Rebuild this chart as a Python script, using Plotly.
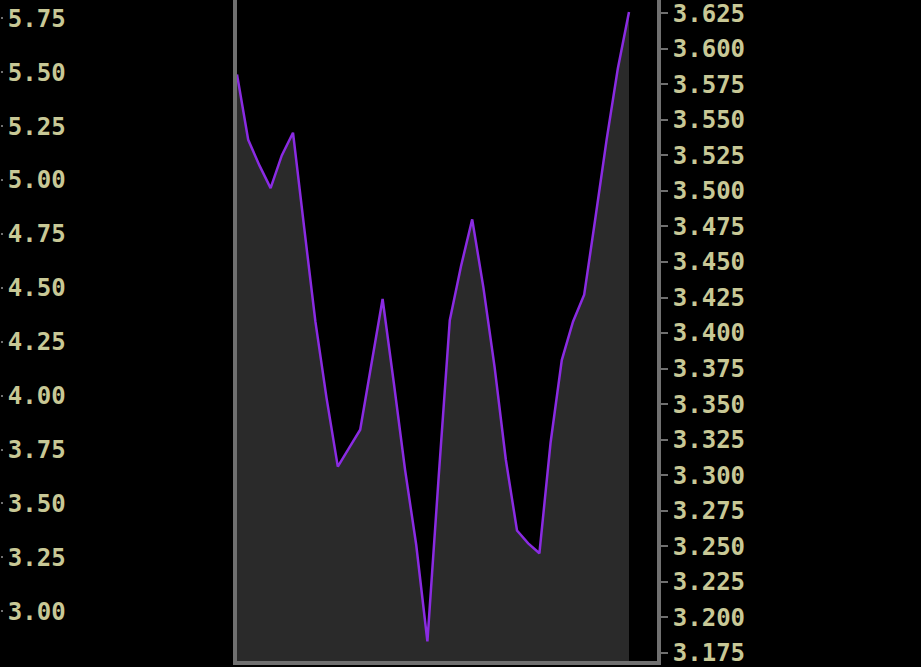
import plotly.graph_objects as go
from plotly.graph_objects import Figure

# series values, one per period (evenly spaced)
periods = list(range(36))
values = [
    3.582, 3.536, 3.518, 3.502, 3.525, 3.541, 3.474, 3.408, 3.354, 3.306,
    3.319, 3.332, 3.378, 3.424, 3.365, 3.304, 3.251, 3.183, 3.298, 3.409,
    3.447, 3.480, 3.432, 3.376, 3.311, 3.261, 3.252, 3.245, 3.323, 3.381,
    3.408, 3.427, 3.481, 3.536, 3.586, 3.626,
]

# tick labels of the neighbouring panel's scale (left edge)
left_ticks = [5.75, 5.50, 5.25, 5.00, 4.75, 4.50, 4.25, 4.00, 3.75, 3.50, 3.25, 3.00]
right_ticks = [3.625, 3.600, 3.575, 3.550, 3.525, 3.500, 3.475, 3.450, 3.425,
               3.400, 3.375, 3.350, 3.325, 3.300, 3.275, 3.250, 3.225, 3.200, 3.175]

BG = "#000000"
FILL = "#2a2a2a"
LINE = "#8a2be2"
FRAME = "#707070"
TEXT = "#c8c896"
FONT = "DejaVu Sans Mono"
TICK_FONT = dict(family=FONT, size=24, color=TEXT, weight="bold")


def make_plot() -> Figure:
    fig = go.Figure()

    fig.add_trace(
        go.Scatter(
            x=periods,
            y=values,
            mode="lines",
            line=dict(color=LINE, width=2.5),
            fill="tozeroy",
            fillcolor=FILL,
            showlegend=False,
            hoverinfo="skip",
        )
    )
    # empty trace so the left scale gets drawn
    fig.add_trace(go.Scatter(x=[], y=[], yaxis="y3", showlegend=False))

    fig.update_layout(
        width=921,
        height=667,
        margin=dict(l=0, r=0, t=0, b=6, autoexpand=False),
        paper_bgcolor=BG,
        plot_bgcolor=BG,
        showlegend=False,
        xaxis=dict(
            domain=[237 / 921, 657 / 921],
            range=[0, 37.5],
            automargin=False,
            showgrid=False,
            zeroline=False,
            showticklabels=False,
            ticks="",
            showline=True,
            linecolor=FRAME,
            linewidth=4,
            mirror=True,
        ),
        yaxis=dict(
            side="right",
            range=[3.1692, 3.6344],
            automargin=False,
            tickvals=right_ticks,
            ticktext=[f"{v:.3f}" for v in right_ticks],
            ticklabeloverflow="allow",
            showgrid=False,
            zeroline=False,
            ticks="outside",
            ticklen=7,
            tickwidth=2,
            tickcolor=FRAME,
            showline=True,
            linecolor=FRAME,
            linewidth=4,
            mirror=True,
            tickfont=TICK_FONT,
        ),
        yaxis3=dict(
            overlaying="y",
            anchor="free",
            position=0,
            side="right",
            range=[2.769, 5.8349],
            automargin=False,
            tickvals=left_ticks,
            ticktext=[f"{v:.2f}" for v in left_ticks],
            ticklabeloverflow="allow",
            showgrid=False,
            zeroline=False,
            showline=False,
            ticks="outside",
            ticklen=2,
            tickwidth=2,
            tickcolor=FRAME,
            tickfont=TICK_FONT,
        ),
    )
    return fig


def main():
    fig = make_plot()
    # drop the page's default body margin so the chart sits at the window corner
    fig.write_html(
        "out.html",
        config={"displayModeBar": False},
        post_script="document.body.style.margin='0';document.body.style.overflow='hidden';",
    )


if __name__ == "__main__":
    main()
